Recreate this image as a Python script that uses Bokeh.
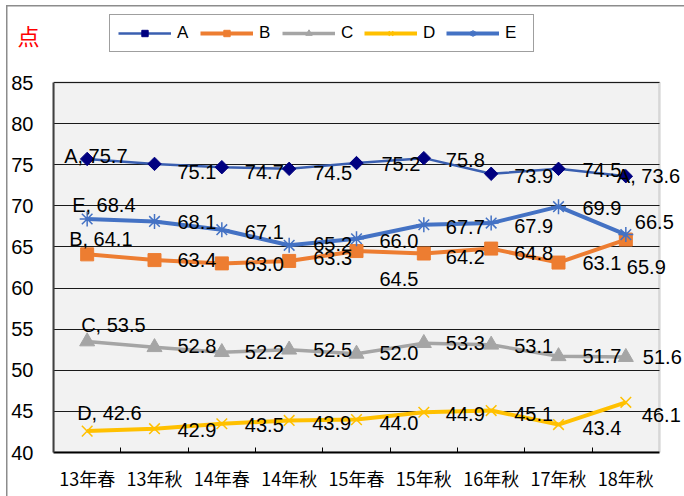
import math
from bokeh.plotting import figure
from bokeh.models import (Range1d, FixedTicker, Legend, LegendItem, BoxAnnotation, LinearAxis)
from bokeh.embed import file_html
from bokeh.resources import INLINE
from bokeh.core.properties import value

# ---------------- data ----------------
categories = ["13年春", "13年秋", "14年春", "14年秋", "15年春", "15年秋", "16年秋", "17年秋", "18年秋"]
series_names = ["A", "B", "C", "D", "E"]
a_vals = [75.7, 75.1, 74.7, 74.5, 75.2, 75.8, 73.9, 74.5, 73.6]
b_vals = [64.1, 63.4, 63.0, 63.3, 64.5, 64.2, 64.8, 63.1, 65.9]
c_vals = [53.5, 52.8, 52.2, 52.5, 52.0, 53.3, 53.1, 51.7, 51.6]
d_vals = [42.6, 42.9, 43.5, 43.9, 44.0, 44.9, 45.1, 43.4, 46.1]
e_vals = [68.4, 68.1, 67.1, 65.2, 66.0, 67.7, 67.9, 69.9, 66.5]
y_ticks = [40, 45, 50, 55, 60, 65, 70, 75, 80, 85]
y_unit = "点"

# ---------------- layout (pixels) ----------------
CANVAS_W, CANVAS_H = 684, 496
LEFT, BOTTOM = 53, 44            # space for the axes
AREA_W, AREA_H = 606, 370        # size of the grey plot area
FRAME_W = CANVAS_W - LEFT        # frame reaches right edge so labels are not clipped
FRAME_H = CANVAS_H - BOTTOM      # frame reaches top edge so the legend fits

n = len(categories)
y0, y1 = y_ticks[0], y_ticks[-1]
x_end = n * FRAME_W / AREA_W
y_end = y0 + (y1 - y0) * FRAME_H / AREA_H
unit_y = y1 + (y1 - y0) * 48 / AREA_H   # position of the unit mark above the plot area

# ---------------- styles ----------------
line_colors = ["#3A5FB0", "#ED7D31", "#A5A5A5", "#FFC000", "#4472C4"]
line_widths = [2.5, 4, 3.5, 4, 4]
markers = ["square", "square", "triangle", "x", "asterisk"]
marker_angles = [math.pi / 4, 0, 0, 0, 0]
marker_sizes = [9.5, 13, 15, 15, 15]
marker_fills = ["#000080", "#ED7D31", "#A5A5A5", None, None]
marker_lines = ["#000080", "#ED7D31", "#A5A5A5", "#FFC000", "#4472C4"]
marker_lw = [1, 1, 1, 1.5, 1.5]

# data-label offsets in screen pixels (dx right, dy down)
label_dx = [
    [-23, 23, 23, 24, 25, 22, 23, 24, -9],
    [-18, 23, 23, 24, 23, 22, 23, 24, 1],
    [-6, 23, 23, 24, 23, 22, 23, 24, 17],
    [-10, 23, 23, 23, 23, 22, 23, 24, 16],
    [-15, 23, 23, 24, 23, 22, 23, 24, 9],
]
label_dy = [
    [-3, 8, 5, 4, 1, 2, 2, 1, 0],
    [-15, 0, 1, -3, 28, 3, 4, 0, 27],
    [-17, -1, 0, 0, -1, 0, 1, 0, 0],
    [-18, 1, 1, 3, 3, 2, 3, 3, 13],
    [-14, 1, 2, -1, 2, 2, 3, 1, -13],
]
name_on_last = [True, False, False, False, False]

all_vals = [a_vals, b_vals, c_vals, d_vals, e_vals]
xs = [i + 0.5 for i in range(n)]

p = figure(frame_width=FRAME_W, frame_height=FRAME_H,
           x_range=Range1d(0, x_end), y_range=Range1d(y0, y_end),
           output_backend="svg", toolbar_location=None,
           min_border_left=LEFT, min_border_right=0, min_border_top=0, min_border_bottom=BOTTOM,
           background_fill_color=None, border_fill_color=None,
           outline_line_color=None)
# chart-area border (left and top edges), drawn as page background behind the transparent canvas
p.styles = {"background": ("linear-gradient(#8C8C8C, #8C8C8C) 6px 5px / 1.5px 100% no-repeat, "
                           "linear-gradient(#8C8C8C, #8C8C8C) 6px 5px / 100% 1.5px no-repeat, "
                           "white")}

# grey plot area with its border
p.add_layout(BoxAnnotation(left=0, right=n, bottom=y0, top=y1,
                           fill_color="#F2F2F2", fill_alpha=1,
                           line_color="#8C8C8C", line_width=2.5, level="image"))

# x axis
xa = p.xaxis[0]
xa.bounds = (0, n)
xa.ticker = FixedTicker(ticks=xs, minor_ticks=list(range(1, n)))
xa.major_label_overrides = {x: c for x, c in zip(xs, categories)}
xa.major_tick_line_color = None
xa.major_tick_in = 0
xa.major_tick_out = 0
xa.minor_tick_in = 5
xa.minor_tick_out = 0
xa.minor_tick_line_color = "#000000"
xa.minor_tick_line_width = 1
xa.axis_line_color = "#000000"
xa.axis_line_width = 2
xa.major_label_text_font = "Noto Sans CJK JP"
xa.major_label_text_font_size = "18px"
xa.major_label_text_color = "#000000"
xa.major_label_standoff = 12
p.xgrid.visible = False

# y axis
ya = p.yaxis[0]
ya.bounds = (y0, y1)
ya.ticker = FixedTicker(ticks=y_ticks)
ya.major_tick_in = 0
ya.major_tick_out = 0
ya.minor_tick_line_color = None
ya.axis_line_color = "#404040"
ya.axis_line_width = 2
ya.major_label_text_font = "Liberation Sans"
ya.major_label_text_font_size = "20px"
ya.major_label_text_color = "#000000"
ya.major_label_standoff = 20
p.ygrid.ticker = FixedTicker(ticks=y_ticks)
p.ygrid.cross_bounds = (0, n)
p.ygrid.grid_line_color = "#1A1A1A"
p.ygrid.grid_line_width = 1

# unit mark "点" as a single red tick label of an extra left axis
unit_axis = LinearAxis(ticker=FixedTicker(ticks=[unit_y]),
                       major_label_overrides={unit_y: y_unit},
                       axis_line_color=None, major_tick_line_color=None,
                       minor_tick_line_color=None, major_tick_in=0, major_tick_out=0,
                       major_label_standoff=-31,
                       major_label_text_color="#FF0000",
                       major_label_text_font="Noto Sans CJK JP",
                       major_label_text_font_size="22px")
p.add_layout(unit_axis, "left")

items = []
for k, name in enumerate(series_names):
    vals = all_vals[k]
    lr = p.line(xs, vals, line_color=line_colors[k], line_width=line_widths[k])
    sr = p.scatter(xs, vals, marker=markers[k], size=marker_sizes[k], angle=marker_angles[k],
                   fill_color=marker_fills[k], line_color=marker_lines[k], line_width=marker_lw[k])
    items.append(LegendItem(label=name, renderers=[lr, sr]))

for k, name in enumerate(series_names):
    vals = all_vals[k]
    texts = [f"{v:.1f}" for v in vals]
    texts[0] = f"{name}, {texts[0]}"
    if name_on_last[k]:
        texts[-1] = f"{name}, {texts[-1]}"
    p.text(xs, vals, text=texts, x_offset=label_dx[k], y_offset=label_dy[k],
           text_font=value("Liberation Sans"), text_font_size="20px",
           text_align="left", text_baseline="middle", text_color="#000000")

legend = Legend(items=items, orientation="horizontal", location=(56, FRAME_H - 52),
                margin=0, glyph_width=53, glyph_height=16, label_width=20, label_height=16,
                label_standoff=6, spacing=3, padding=8,
                label_text_font="Liberation Sans", label_text_font_size="17px",
                label_text_color="#000000",
                border_line_color="#404040", border_line_width=1,
                background_fill_color="white", background_fill_alpha=1)
p.add_layout(legend, "center")

open("out.html", "w").write(file_html(p, INLINE))
